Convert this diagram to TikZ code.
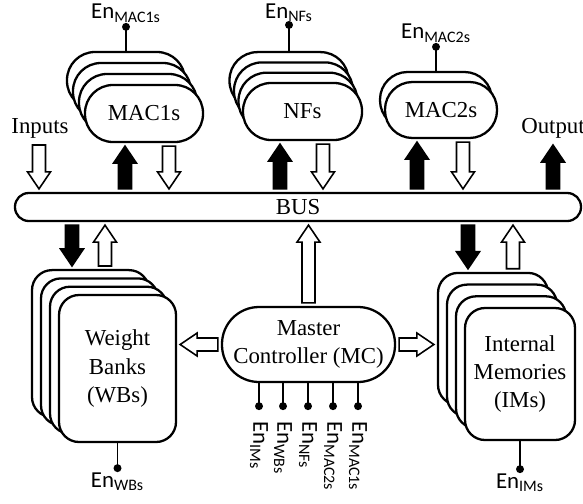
\documentclass[tikz,border=0pt]{standalone}
\usepackage{fontspec}
\setmainfont{Liberation Serif}
\newfontfamily\ensans{Carlito}
\usetikzlibrary{calc}

% enable signal label
\newcommand{\en}[1]{{\ensans En\textsubscript{#1}}}

% block arrow from #2 to #3, drawn with style #1
\newcommand{\barrow}[3]{%
  \path[#1] let \p1=(#2), \p2=(#3),
      \n1={atan2(\y2-\y1,\x2-\x1)}, \n2={veclen(\x2-\x1,\y2-\y1)} in
    [shift={(\p1)}, rotate=\n1]
    (0.6mm,-1.3mm) -- ({\n2-4mm},-1.3mm) -- ({\n2-4mm},-2.3mm)
    -- ({\n2-0.6mm},0mm) -- ({\n2-4mm},2.3mm) -- ({\n2-4mm},1.3mm)
    -- (0.6mm,1.3mm) -- cycle;}

\begin{document}
\begin{tikzpicture}[x=0.2mm, y=-0.2mm,
    font=\fontsize{13}{16}\selectfont,
    box/.style={draw, line width=1.3pt, fill=white, inner sep=0pt, align=center},
    mac1box/.style={box, minimum width=23.6mm, minimum height=11.4mm, rounded corners=5.6mm},
    nfbox/.style={box, minimum width=23.8mm, minimum height=11.4mm, rounded corners=5.6mm},
    mac2box/.style={box, minimum width=22.4mm, minimum height=11.2mm, rounded corners=5.5mm},
    wbbox/.style={box, minimum width=23.4mm, minimum height=29.4mm, rounded corners=4mm},
    imbox/.style={box, minimum width=22mm, minimum height=26.4mm, rounded corners=4mm},
    wire/.style={line width=1.1pt},
    dot/.style={circle, fill, inner sep=0pt, minimum size=1.6mm},
    enlabel/.style={font=\ensans\fontsize{13}{15}\selectfont, inner sep=1pt},
    blk/.style={draw, line width=0.9pt, fill=black},
    hollow/.style={draw, line width=0.9pt, fill=white}]
    \useasboundingbox (0,0) rectangle (583,503);

    % shared bus
    \node[box, minimum width=113.2mm, minimum height=5.6mm, rounded corners=2.75mm] (bus) at (298,207) {BUS};

    % MAC1s
    \coordinate (mac1c) at (144,113.5);
    \foreach \i in {3,2,1}
        \node[mac1box] (mac1-\i) at ([shift={(-6*\i,-11*\i)}]mac1c) {};
    \node[mac1box] (mac1) at (mac1c) {MAC1s};
    \draw[wire] (mac1-3.north) -- ++(0,-24) coordinate (en-mac1);
    \node[dot] at (en-mac1) {};
    \node[enlabel, above=0.5mm] (l-mac1) at (en-mac1) {\en{MAC1s}};

    % NFs
    \coordinate (nfc) at (302.5,111.5);
    \foreach \i in {3,2,1}
        \node[nfbox] (nf-\i) at ([shift={(-4.5*\i,-10.3*\i)}]nfc) {};
    \node[nfbox] (nf) at (nfc) {NFs};
    \draw[wire] (nf-3.north) -- ++(0,-26) coordinate (en-nf);
    \node[dot] at (en-nf) {};
    \node[enlabel, above=0.2mm] (l-nf) at (en-nf) {\en{NFs}};

    % MAC2s
    \coordinate (mac2c) at (441,110);
    \node[mac2box] (mac2-1) at ([shift={(-5,-10)}]mac2c) {};
    \node[mac2box] (mac2) at (mac2c) {MAC2s};
    \draw[wire] (mac2-1.north) -- ++(0,-24) coordinate (en-mac2);
    \node[dot] at (en-mac2) {};
    \node[enlabel, above=0.5mm] (l-mac2) at (en-mac2) {\en{MAC2s}};

    % weight banks
    \coordinate (wbc) at (117.5,368.5);
    \foreach \i in {3,2,1}
        \node[wbbox] (wb-\i) at ([shift={(-9*\i,-8.3*\i)}]wbc) {};
    \node[wbbox] (wb) at (wbc) {Weight\\Banks\\(WBs)};
    \draw[wire] (wb.south) -- ++(0,25) coordinate (en-wb);
    \node[dot] at (en-wb) {};
    \node[enlabel, below=0.5mm] (l-wb) at (en-wb) {\en{WBs}};

    % internal memories
    \coordinate (imc) at (520,374);
    \foreach \i in {3,2,1}
        \node[imbox] (im-\i) at ([shift={(-9*\i,-11.7*\i)}]imc) {};
    \node[imbox] (im) at (imc) {Internal\\Memories\\(IMs)};
    \draw[wire] (im.south) -- ++(0,28) coordinate (en-im);
    \node[dot] at (en-im) {};
    \node[enlabel, below=0.5mm] (l-im) at (en-im) {\en{IMs}};

    % master controller and its enable lines
    \node[box, minimum width=34.6mm, minimum height=15mm, rounded corners=7.4mm] (mc) at (308.5,344.5) {Master\\Controller (MC)};
    \foreach \dx/\lab in {-49.5/IMs, -25.5/WBs, -0.5/NFs, 24.5/MAC2s, 49.5/MAC1s} {
        \draw[wire] ([xshift=\dx*0.2mm]mc.south) -- ++(0,23) coordinate (mc-\lab);
        \node[dot] at (mc-\lab) {};
        \node[enlabel, rotate=-90, anchor=west] (lmc-\lab) at ([yshift=-2.6mm]mc-\lab) {\en{\lab}};
    }

    % primary input and output
    \coordinate (in) at (39,142);
    \coordinate (out) at (553,142);
    \node (inputs) at (40,128) {Inputs};
    \node (output) at (553,128) {Output};

    % arrow columns
    \foreach \n/\x in {m1u/125, m1d/169, nfu/280, nfd/323, m2u/417, m2d/463,
                       wbd/72, wbu/105, imd/468, imu/513}
        \coordinate (c-\n) at (\x,0);

    \barrow{hollow}{in}{in |- bus.north}
    \barrow{blk}{bus.north -| out}{out}
    \barrow{blk}{c-m1u |- bus.north}{c-m1u |- mac1.south}
    \barrow{hollow}{c-m1d |- mac1.south}{c-m1d |- bus.north}
    \barrow{blk}{c-nfu |- bus.north}{c-nfu |- nf.south}
    \barrow{hollow}{c-nfd |- nf.south}{c-nfd |- bus.north}
    \barrow{blk}{c-m2u |- bus.north}{c-m2u |- mac2.south}
    \barrow{hollow}{c-m2d |- mac2.south}{c-m2d |- bus.north}
    \barrow{blk}{c-wbd |- bus.south}{c-wbd |- wb-3.north}
    \barrow{hollow}{c-wbu |- wb-3.north}{c-wbu |- bus.south}
    \barrow{blk}{c-imd |- bus.south}{c-imd |- im-3.north}
    \barrow{hollow}{c-imu |- im-3.north}{c-imu |- bus.south}
    \barrow{hollow}{mc.north}{mc.north |- bus.south}
    \barrow{hollow}{mc.west}{mc.west -| wb.east}
    \barrow{hollow}{mc.east}{mc.east -| im-3.west}
\end{tikzpicture}
\end{document}
